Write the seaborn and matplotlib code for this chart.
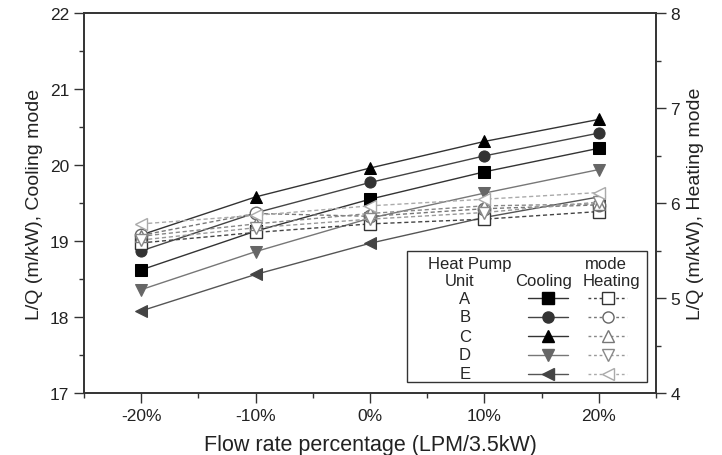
import matplotlib
matplotlib.use("Agg")
import matplotlib.pyplot as plt
import seaborn as sns
import pandas as pd
from matplotlib.ticker import MultipleLocator, FixedLocator
from matplotlib.patches import Rectangle
from matplotlib.lines import Line2D

# ---- data ----
flow = [-20, -10, 0, 10, 20]
xtick_labels = ["-20%", "-10%", "0%", "10%", "20%"]
units = ["A", "B", "C", "D", "E"]

cool_A = [18.62, 19.13, 19.55, 19.91, 20.22]
cool_B = [18.87, 19.37, 19.77, 20.12, 20.42]
cool_C = [19.08, 19.58, 19.96, 20.31, 20.60]
cool_D = [18.36, 18.86, 19.30, 19.63, 19.94]
cool_E = [18.08, 18.56, 18.97, 19.31, 19.58]

heat_A = [5.58, 5.69, 5.78, 5.83, 5.91]
heat_B = [5.66, 5.89, 5.86, 5.94, 5.98]
heat_C = [5.65, 5.78, 5.89, 5.97, 5.99]
heat_D = [5.61, 5.74, 5.83, 5.90, 6.01]
heat_E = [5.78, 5.87, 5.97, 6.04, 6.11]

cooling = [cool_A, cool_B, cool_C, cool_D, cool_E]
heating = [heat_A, heat_B, heat_C, heat_D, heat_E]

# ---- styles ----
markers = ["s", "o", "^", "v", "<"]
cool_mcol = ["#000000", "#333333", "#000000", "#666666", "#444444"]
cool_lcol = ["#333333", "#444444", "#333333", "#777777", "#555555"]
heat_mcol = ["#333333", "#666666", "#777777", "#888888", "#aaaaaa"]
heat_lcol = ["#444444", "#777777", "#888888", "#999999", "#aaaaaa"]

sns.set_style("ticks")
plt.rcParams["font.family"] = ["Liberation Sans", "DejaVu Sans"]

W, H = 722, 456
L, R, T, B = 84, 656, 14, 394
fig = plt.figure(figsize=(W / 100, H / 100), dpi=100)
ax = fig.add_axes([L / W, 1 - B / H, (R - L) / W, (B - T) / H])
ax2 = ax.twinx()

for i, u in enumerate(units):
    df = pd.DataFrame({"flow": flow, "val": cooling[i]})
    sns.lineplot(data=df, x="flow", y="val", ax=ax, color=cool_lcol[i], lw=1.0,
                 marker=markers[i], markersize=8, markerfacecolor=cool_mcol[i],
                 markeredgecolor=cool_mcol[i], zorder=3)

for i, u in enumerate(units):
    df = pd.DataFrame({"flow": flow, "val": heating[i]})
    sns.lineplot(data=df, x="flow", y="val", ax=ax2, color=heat_lcol[i], lw=1.0,
                 linestyle=(0, (3, 2)), marker=markers[i], markersize=9,
                 markerfacecolor="white", markeredgecolor=heat_mcol[i],
                 markeredgewidth=1.0, zorder=3)

# ---- axes ----
ax.set_xlim(-25, 25)
ax.set_ylim(17, 22)
ax2.set_ylim(4, 8)
ax.xaxis.set_major_locator(FixedLocator(flow))
ax.set_xticklabels(xtick_labels)
ax.xaxis.set_minor_locator(MultipleLocator(5))
ax.yaxis.set_major_locator(MultipleLocator(1))
ax.yaxis.set_minor_locator(MultipleLocator(0.5))
ax2.yaxis.set_major_locator(MultipleLocator(1))
ax2.yaxis.set_minor_locator(MultipleLocator(0.5))

for a in (ax, ax2):
    for s in a.spines.values():
        s.set_visible(True)
        s.set_linewidth(1.2)
        s.set_color("#333333")
ax.tick_params(axis="both", which="major", direction="out", length=7, width=1,
               labelsize=12.5, colors="#333333", labelcolor="#222222")
ax.tick_params(axis="both", which="minor", direction="out", length=3.5, width=1, colors="#333333")
ax2.tick_params(axis="y", which="major", direction="out", length=7, width=1,
                labelsize=12.5, colors="#333333", labelcolor="#222222")
ax2.tick_params(axis="y", which="minor", direction="out", length=3.5, width=1, colors="#333333")

ax.set_xlabel("Flow rate percentage (LPM/3.5kW)", fontsize=15.5, color="#222222", labelpad=8)
ax.set_ylabel("L/Q (m/kW), Cooling mode", fontsize=14, color="#222222", labelpad=5)
ax2.set_ylabel("L/Q (m/kW), Heating mode", fontsize=14, color="#222222", labelpad=5)

# ---- custom legend table ----
tr = ax2.transAxes
ax2.add_patch(Rectangle((0.564, 0.028), 0.984 - 0.564, 0.374 - 0.028, transform=tr,
                        facecolor="white", edgecolor="#333333", lw=1.0, zorder=10))
fs = 12
ax2.text(0.674, 0.342, "Heat Pump", transform=tr, ha="center", va="center", fontsize=fs, zorder=11)
ax2.text(0.912, 0.342, "mode", transform=tr, ha="center", va="center", fontsize=fs, zorder=11)
ax2.text(0.657, 0.296, "Unit", transform=tr, ha="center", va="center", fontsize=fs, zorder=11)
ax2.text(0.803, 0.296, "Cooling", transform=tr, ha="center", va="center", fontsize=fs, zorder=11)
ax2.text(0.922, 0.296, "Heating", transform=tr, ha="center", va="center", fontsize=fs, zorder=11)
row_y = [0.25, 0.20, 0.15, 0.10, 0.05]
for i, u in enumerate(units):
    y = row_y[i]
    ax2.text(0.666, y, u, transform=tr, ha="center", va="center", fontsize=fs, zorder=11)
    ax2.add_line(Line2D([0.776, 0.846], [y, y], transform=tr, color=cool_lcol[i], lw=1.0, zorder=11))
    ax2.add_line(Line2D([0.811], [y], transform=tr, marker=markers[i], markersize=8,
                        color=cool_mcol[i], lw=0, zorder=12))
    ax2.add_line(Line2D([0.881, 0.949], [y, y], transform=tr, color=heat_lcol[i], lw=1.0,
                        linestyle=(0, (2, 2)), zorder=11))
    ax2.add_line(Line2D([0.916], [y], transform=tr, marker=markers[i], markersize=8,
                        markerfacecolor="white", markeredgecolor=heat_mcol[i], lw=0, zorder=12))

fig.savefig("out.png", dpi=100)
